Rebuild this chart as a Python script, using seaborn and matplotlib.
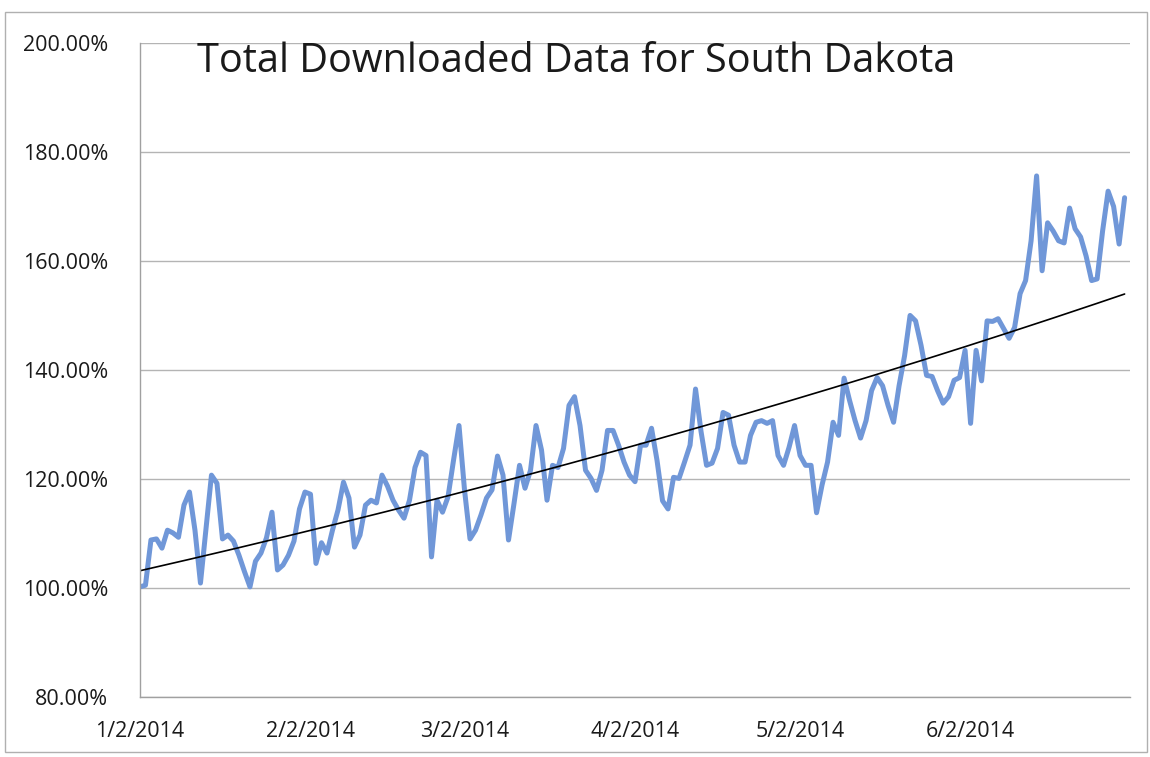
import numpy as np
import pandas as pd
import matplotlib
matplotlib.use("Agg")
import matplotlib.pyplot as plt
import seaborn as sns

# daily values (percent of 1/2/2014)
jan = [100.2, 100.5, 108.8, 109.0, 107.3, 110.6, 110.1, 109.3, 115.2, 117.6,
       110.6, 100.9, 110.8, 120.7, 119.2, 109.0, 109.7, 108.6, 106.0, 103.0,
       100.2, 104.9, 106.4, 109.2, 113.9, 103.3, 104.2, 106.0, 108.6, 114.5,
       117.6]
feb = [117.2, 104.5, 108.3, 106.4, 110.6, 114.3, 119.4, 116.5, 107.5, 109.7,
       115.2, 116.1, 115.6, 120.7, 118.7, 116.1, 114.3, 112.8, 116.1, 122.1,
       124.9, 124.3, 105.7, 116.1, 113.9, 116.7, 123.4, 129.8]
mar = [118.0, 109.0, 110.6, 113.4, 116.5, 118.0, 124.2, 120.7, 108.8, 115.5,
       122.5, 118.3, 121.6, 129.8, 125.3, 116.1, 122.5, 122.1, 125.6, 133.5,
       135.1, 129.8, 121.6, 120.1, 117.9, 121.6, 128.9, 128.9, 126.2, 123.1,
       120.7]
apr = [119.5, 126.2, 126.2, 129.3, 123.4, 116.0, 114.5, 120.3, 120.1, 123.1,
       126.2, 136.5, 128.7, 122.5, 122.9, 125.6, 132.2, 131.7, 126.2, 123.1,
       123.1, 128.0, 130.4, 130.7, 130.2, 130.7, 124.3, 122.5, 125.8, 129.8]
may = [124.3, 122.5, 122.5, 113.8, 118.9, 123.1, 130.4, 128.0, 138.5, 134.4,
       130.7, 127.5, 130.7, 136.2, 138.6, 137.1, 133.5, 130.4, 137.1, 142.6,
       150.0, 149.0, 144.5, 139.0, 138.8, 136.2, 133.9, 135.1, 138.1, 138.6,
       143.6]
jun = [130.2, 143.6, 138.0, 149.0, 148.9, 149.4, 147.6, 145.8, 147.8, 154.0,
       156.4, 163.7, 175.6, 158.2, 167.0, 165.5, 163.7, 163.3, 169.7, 165.9,
       164.4, 160.9, 156.4, 156.7, 165.5, 172.8, 170.0, 163.1, 171.6]

values = jan + feb + mar + apr + may + jun
dates = pd.date_range("2014-01-02", periods=len(values), freq="D")
tick_dates = pd.to_datetime(["2014-01-02", "2014-02-02", "2014-03-02",
                             "2014-04-02", "2014-05-02", "2014-06-02"])
y_ticks = [80, 100, 120, 140, 160, 180, 200]
title = "Total Downloaded Data for South Dakota"

df = pd.DataFrame({"date": dates, "pct": values})

# exponential trendline, like excel's
days = np.arange(len(values))
b, a = np.polyfit(days, np.log(values), 1)
df["trend"] = np.exp(a + b * days)

sns.set_style("white")
plt.rcParams["font.family"] = ["Open Sans", "DejaVu Sans"]

fig = plt.figure(figsize=(11.5, 7.57), dpi=100)
ax = fig.add_axes([0.1217, 0.0793, 0.861, 0.864])

sns.lineplot(data=df, x="date", y="pct", ax=ax, color="#7097d8", linewidth=3.6)
sns.lineplot(data=df, x="date", y="trend", ax=ax, color="black", linewidth=1.2)

ax.set_xlim(pd.Timestamp("2014-01-02"), pd.Timestamp("2014-07-01"))
ax.set_ylim(80, 200)
ax.set_yticks(y_ticks)
ax.set_yticklabels([f"{v:.2f}%" for v in y_ticks])
ax.set_xticks(tick_dates)
ax.set_xticklabels([f"{d.month}/{d.day}/{d.year}" for d in tick_dates])
ax.grid(axis="y", color="#b4b4b4", linewidth=1)
ax.set_axisbelow(True)

for s in ["top", "right"]:
    ax.spines[s].set_visible(False)
for s in ["left", "bottom"]:
    ax.spines[s].set_color("#a0a0a0")
    ax.spines[s].set_linewidth(1)
ax.tick_params(axis="both", direction="out", length=5, width=1, color="#a0a0a0",
               labelsize=15.5, labelcolor="#1a1a1a")
ax.tick_params(axis="y", pad=18)
ax.tick_params(axis="x", pad=12)
ax.set_xlabel("")
ax.set_ylabel("")

ax.text(0.441, 0.971, title, transform=ax.transAxes, ha="center", va="center",
        fontsize=28.5, color="#1a1a1a")

# chart area border
fig.add_artist(plt.Rectangle((0.004, 0.006), 0.993, 0.978, transform=fig.transFigure,
                             fill=False, edgecolor="#b0b0b0", linewidth=1))

fig.savefig("out.png", dpi=100)
